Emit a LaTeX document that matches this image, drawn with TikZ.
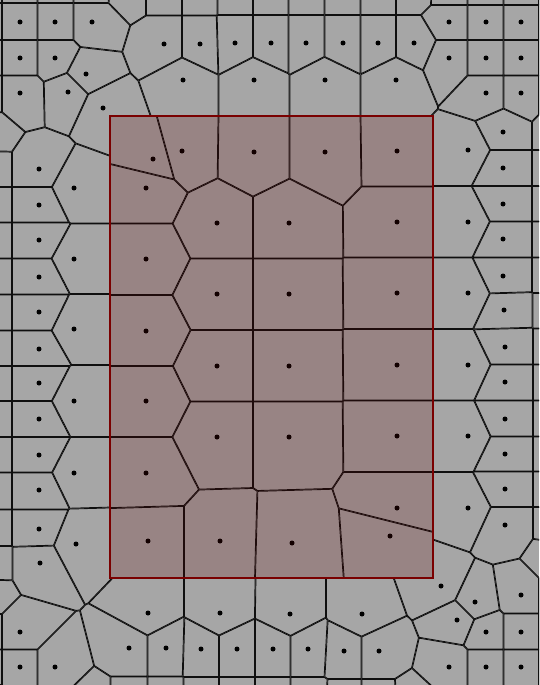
\documentclass[tikz,border=0pt]{standalone}
\usetikzlibrary{calc}

\definecolor{cellgray}{RGB}{166,166,166}
\definecolor{edgeblack}{RGB}{15,15,15}
\definecolor{boxred}{RGB}{122,0,0}
\definecolor{boxfill}{RGB}{96,0,0}

\tikzset{
  celledge/.style={edgeblack, line width=1.7pt},
  site/.style={fill=black},
}

% \side is 1 for a site inside the frame, 0 outside
\newcommand{\whichside}[2]{%
  \ifnum\numexpr(#1-110)*(433-#1)\relax>0
    \ifnum\numexpr(#2-116)*(578-#2)\relax>0 \xdef\side{1}\else\xdef\side{0}\fi
  \else\xdef\side{0}\fi}

\begin{document}
\begin{tikzpicture}[x=1pt, y=-1pt]
% sites that show a dot
\def\sites{20/22, 55/22, 92/22, 20/58, 55/58, 86/74, 68/92, 20/93, 103/108,
  164/44, 200/44, 235/43, 271/43, 306/43, 343/43, 378/43, 414/43,
  183/80, 254/80, 325/80, 396/80,
  449/22, 486/22, 521/22, 449/58, 486/58, 521/58, 486/93, 521/93,
  503/132, 468/150, 503/168,
  153/159, 182/151, 254/152, 325/152, 397/151,
  39/169, 74/188, 146/188, 39/205, 39/240, 74/259, 146/259, 39/277,
  39/312, 74/329, 146/331, 39/349, 39/383, 74/401, 146/401, 39/419,
  39/455, 74/473, 146/473, 39/490, 39/529, 76/544, 148/541, 40/563,
  217/223, 289/223, 397/222, 468/222, 503/204, 503/239,
  217/294, 289/294, 397/293, 468/293, 503/276, 504/310,
  217/366, 289/366, 397/365, 468/365, 505/347, 505/382,
  217/437, 289/437, 397/436, 468/436, 505/419, 505/454,
  397/508, 468/508, 505/489, 505/525,
  220/541, 292/543, 390/536,
  441/586, 475/602, 457/620, 521/595,
  148/613, 220/613, 290/614, 362/614,
  20/632, 486/632, 521/632,
  129/648, 166/648, 201/649, 237/649, 273/649, 308/649, 344/651, 379/651,
  20/667, 55/667, 449/667, 486/667, 521/667}
% sites just outside the picture
\def\ghosts{-16/-16, 20/-16, 55/-16, 92/-16, 128/-13, 164/-13, 200/-13,
  235/-13, 271/-13, 306/-13, 343/-13, 378/-13, 414/-13, 449/-12, 486/-12,
  521/-12, 557/-12,
  -16/22, -16/58, -16/93, -14/133, -15/169, -15/205, -15/240, -15/277,
  -15/312, -15/349, -15/383, -15/419, -15/455, -15/490, -15/529, -15/563,
  -16/596, -16/632, -16/667, -16/703,
  557/22, 557/58, 557/93, 561/132, 561/168, 561/204, 561/239, 561/276,
  561/310, 561/347, 561/382, 561/419, 561/454, 561/489, 561/525, 556/560,
  557/595, 557/632, 557/667, 557/705,
  20/705, 55/705, 92/705, 129/705, 166/705, 201/705, 237/705, 273/705,
  308/705, 344/707, 379/707, 414/705, 449/705, 486/705, 521/705}
\edef\allsites{\sites, \ghosts}
\def\RR{19600}% (2*\rcell)^2
\def\rcell{70}
\def\K{10}

\useasboundingbox (0,0) rectangle (539,685);
\clip (0,0) rectangle (539,685);
\fill[cellgray] (0,0) rectangle (539,685);

% one cell at a time: clip to its side of the frame and to its half planes,
% then draw the bisectors
\foreach \xa/\ya in \allsites {
  \whichside{\xa}{\ya}\let\sidea\side
  \gdef\near{}
  \foreach \xb/\yb in \allsites {
    \whichside{\xb}{\yb}
    \ifx\side\sidea
    \ifnum\numexpr(\xb-\xa)*(\xb-\xa)+(\yb-\ya)*(\yb-\ya)\relax<\RR
      \ifnum\numexpr(\xb-\xa)*(\xb-\xa)+(\yb-\ya)*(\yb-\ya)\relax>0
        \ifx\near\empty \xdef\near{\xb/\yb}\else \xdef\near{\near, \xb/\yb}\fi
      \fi
    \fi
    \fi
  }
  \begin{scope}[even odd rule]
    \ifnum\sidea=1
      \clip (110,116) rectangle (433,578);
    \else
      \clip (-60,-60) rectangle (620,760) (110,116) rectangle (433,578);
    \fi
    \clip (\xa,\ya) circle[radius=\rcell pt];
    \foreach \xb/\yb in \near {
      \clip ({(\xa+\xb)/2-\K*(\yb-\ya)}, {(\ya+\yb)/2+\K*(\xb-\xa)})
        -- ++({2*\K*(\yb-\ya)}, {-2*\K*(\xb-\xa)})
        -- ++({-\K*(\xb-\xa)}, {-\K*(\yb-\ya)})
        -- ++({-2*\K*(\yb-\ya)}, {2*\K*(\xb-\xa)}) -- cycle;
    }
    \draw[celledge] \foreach \xb/\yb in \near {
      ({(\xa+\xb)/2-\K*(\yb-\ya)}, {(\ya+\yb)/2+\K*(\xb-\xa)})
        -- ++({2*\K*(\yb-\ya)}, {-2*\K*(\xb-\xa)})
    };
  \end{scope}
}

% dots
\foreach \xa/\ya in \sites {
  \fill[site] (\xa,\ya) circle[radius=2.5pt];
}

% red frame
\fill[boxfill, fill opacity=0.2] (110,116) rectangle (433,578);
\draw[boxred, line width=2.4pt] (110,116) rectangle (433,578);
\end{tikzpicture}
\end{document}
